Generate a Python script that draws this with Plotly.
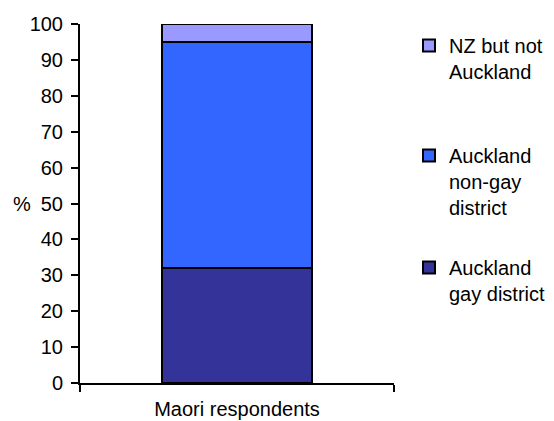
import plotly.graph_objects as go

categories = ["Maori respondents"]
series_names = ["Auckland gay district", "Auckland non-gay district", "NZ but not Auckland"]
legend_labels = ["Auckland<br>gay district\u00a0", "Auckland<br>non-gay<br>district", "NZ but not\u00a0<br>Auckland"]
series_values = [[32], [63], [5]]
series_colors = ["#333399", "#3366FF", "#9999FF"]
y_ticks = [0, 10, 20, 30, 40, 50, 60, 70, 80, 90, 100]

FONT = "Liberation Sans, Arial, sans-serif"
# the page body adds an 8px offset, so the figure is 8px smaller than the window
W, H = 546, 413

legend_ids = ["legend3", "legend2", "legend"]
legend_tops = [240, 128, 18]

fig = go.Figure()
for name, lab, vals, col, lid in zip(series_names, legend_labels, series_values, series_colors, legend_ids):
    fig.add_trace(go.Bar(
        x=categories, y=vals, name=lab, legend=lid,
        marker=dict(color=col, line=dict(color="#000000", width=2)),
        width=0.48,
    ))

legend_common = dict(
    xref="container", yref="container", xanchor="left", yanchor="top",
    x=401 / W, valign="top",
    font=dict(family=FONT, size=20, color="#000000"),
    bgcolor="rgba(0,0,0,0)", borderwidth=0,
)
legends = {}
for lid, top in zip(legend_ids, legend_tops):
    legends[lid] = dict(legend_common, y=1 - top / H)

fig.update_layout(
    width=W, height=H,
    barmode="stack",
    paper_bgcolor="white", plot_bgcolor="white",
    margin=dict(l=72, r=160, t=16, b=38, autoexpand=False),
    font=dict(family=FONT, size=20, color="#000000"),
    showlegend=True,
    xaxis=dict(
        showline=True, linecolor="#000000", linewidth=2,
        ticks="outside", tickson="boundaries", ticklen=7, tickwidth=2, tickcolor="#000000",
        showgrid=False, zeroline=False, ticklabelstandoff=7, automargin=False,
        range=[-0.5, 0.5],
    ),
    yaxis=dict(
        range=[0, 100], tickvals=y_ticks,
        showline=True, linecolor="#000000", linewidth=2,
        ticks="outside", ticklen=7, tickwidth=2, tickcolor="#000000",
        showgrid=False, zeroline=False, ticklabelstandoff=4, automargin=False,
    ),
    annotations=[dict(
        text="%", xref="paper", yref="y", x=-0.185, y=50,
        xanchor="center", yanchor="middle", showarrow=False,
        font=dict(family=FONT, size=20, color="#000000"),
    )],
    **legends,
)

fig.write_html("out.html")
